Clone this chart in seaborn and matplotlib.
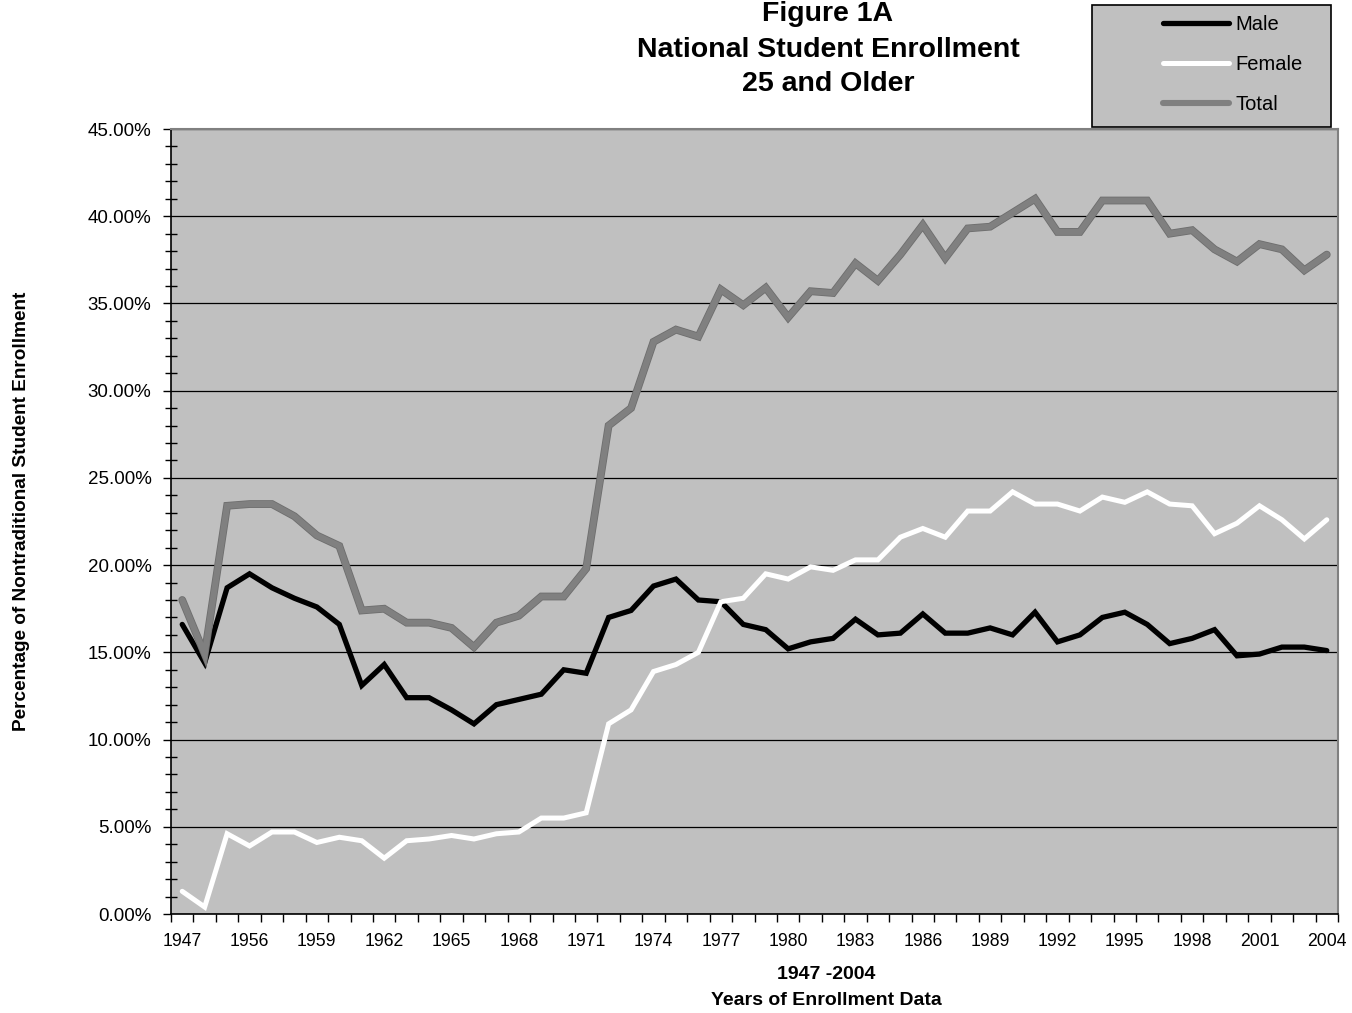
import numpy as np
import pandas as pd
import matplotlib
matplotlib.use("Agg")
import matplotlib.pyplot as plt
import matplotlib.patheffects as pe
from matplotlib.patches import Rectangle
from matplotlib.ticker import MultipleLocator, FixedLocator, PercentFormatter
from matplotlib.lines import Line2D
import seaborn as sns

# Enrollment years (category axis)
years = ["1947", "1950", "1953",
         "1956", "1957", "1958", "1959", "1960", "1961", "1962", "1963", "1964",
         "1965", "1966", "1967", "1968", "1969", "1970", "1971", "1972", "1973",
         "1974", "1975", "1976", "1977", "1978", "1979", "1980", "1981", "1982",
         "1983", "1984", "1985", "1986", "1987", "1988", "1989", "1990", "1991",
         "1992", "1993", "1994", "1995", "1996", "1997", "1998", "1999", "2000",
         "2001", "2002", "2003", "2004"]

# Share of students aged 25 and older (percent)
male = [16.6, 14.4, 18.7, 19.5, 18.7, 18.1, 17.6, 16.6, 13.1, 14.3, 12.4, 12.4,
        11.7, 10.9, 12.0, 12.3, 12.6, 14.0, 13.8, 17.0, 17.4, 18.8, 19.2, 18.0,
        17.9, 16.6, 16.3, 15.2, 15.6, 15.8, 16.9, 16.0, 16.1, 17.2, 16.1, 16.1,
        16.4, 16.0, 17.3, 15.6, 16.0, 17.0, 17.3, 16.6, 15.5, 15.8, 16.3, 14.8,
        14.9, 15.3, 15.3, 15.1]
female = [1.3, 0.4, 4.6, 3.9, 4.7, 4.7, 4.1, 4.4, 4.2, 3.2, 4.2, 4.3,
          4.5, 4.3, 4.6, 4.7, 5.5, 5.5, 5.8, 10.9, 11.7, 13.9, 14.3, 15.0,
          17.9, 18.1, 19.5, 19.2, 19.9, 19.7, 20.3, 20.3, 21.6, 22.1, 21.6, 23.1,
          23.1, 24.2, 23.5, 23.5, 23.1, 23.9, 23.6, 24.2, 23.5, 23.4, 21.8, 22.4,
          23.4, 22.6, 21.5, 22.6]
total = [18.0, 14.9, 23.4, 23.5, 23.5, 22.8, 21.7, 21.1, 17.4, 17.5, 16.7, 16.7,
         16.4, 15.3, 16.7, 17.1, 18.2, 18.2, 19.8, 28.0, 29.0, 32.8, 33.5, 33.1,
         35.8, 34.9, 35.9, 34.2, 35.7, 35.6, 37.3, 36.3, 37.8, 39.5, 37.6, 39.3,
         39.4, 40.2, 41.0, 39.1, 39.1, 40.9, 40.9, 40.9, 39.0, 39.2, 38.1, 37.4,
         38.4, 38.1, 36.9, 37.8]

series_names = ["Male", "Female", "Total"]
title_lines = ["Figure 1A", "National Student Enrollment", "25 and Older"]
xlabel_lines = ["1947 -2004", "Years of Enrollment Data"]
ylabel_text = "Percentage of Nontraditional Student Enrollment"
label_step = 3

sns.set_style("white", {"axes.facecolor": "#C0C0C0"})
plt.rcParams["font.family"] = ["Liberation Sans", "DejaVu Sans"]
plt.rcParams["text.color"] = "black"
plt.rcParams["xtick.color"] = "black"
plt.rcParams["ytick.color"] = "black"
plt.rcParams["axes.labelcolor"] = "black"

df = pd.DataFrame({"pos": np.arange(len(years)), "year": years,
                   "Male": male, "Female": female, "Total": total})

W, H = 1352, 1013
fig = plt.figure(figsize=(W / 100, H / 100), dpi=100)
fig.patch.set_facecolor("white")
ax = fig.add_axes([171 / W, 1 - 914 / H, (1338 - 171) / W, (914 - 129) / H])
ax.set_facecolor("#C0C0C0")

ax.set_axisbelow(True)
ax.yaxis.grid(True, which="major", color="black", linewidth=0.9)
ax.xaxis.grid(False)

sns.lineplot(data=df, x="pos", y="Male", ax=ax, color="#000000",
             linewidth=3.8, solid_joinstyle="miter", zorder=3)
sns.lineplot(data=df, x="pos", y="Female", ax=ax, color="#FFFFFF",
             linewidth=3.6, solid_joinstyle="miter", zorder=3)
sns.lineplot(data=df, x="pos", y="Total", ax=ax, color="#808080",
             linewidth=4.4, solid_joinstyle="miter", zorder=3,
             path_effects=[pe.Stroke(linewidth=5.6, foreground="#6E6E6E"),
                           pe.Normal()])

ax.set_xlim(-0.5, len(years) - 0.5)
ax.set_ylim(0, 45)

# y axis: percent labels every 5, minor ticks every 1
ax.yaxis.set_major_locator(MultipleLocator(5))
ax.yaxis.set_minor_locator(MultipleLocator(1))
ax.yaxis.set_major_formatter(PercentFormatter(xmax=100, decimals=2))
ax.tick_params(axis="y", which="major", direction="out", length=6, width=1,
               color="black", labelcolor="black", pad=8, labelsize=13.5,
               left=True)
ax.tick_params(axis="y", which="minor", direction="inout", length=8, width=1,
               color="black", left=True)

# x axis: ticks at category boundaries, labels every third category
pos = np.arange(len(years))
ax.xaxis.set_major_locator(FixedLocator(pos[::label_step]))
ax.set_xticklabels(years[::label_step])
ax.xaxis.set_minor_locator(FixedLocator(np.arange(-0.5, len(years), 1)))
ax.tick_params(axis="x", which="major", length=0, pad=14, labelsize=12.7,
               labelcolor="black", bottom=True)
ax.tick_params(axis="x", which="minor", direction="out", length=6, width=1,
               color="black", bottom=True)

ax.set_xlabel("")
ax.set_ylabel("")

for side in ["left", "bottom"]:
    ax.spines[side].set_color("black")
    ax.spines[side].set_linewidth(1.2)
for side in ["top", "right"]:
    ax.spines[side].set_color("#808080")
    ax.spines[side].set_linewidth(1.5)

# Title lines (baselines in pixels from the top)
for text, base in zip(title_lines, [21, 57, 91]):
    fig.text(828 / W, 1 - base / H, text, ha="center", va="baseline",
             fontsize=20.5, fontweight="bold", color="black")

# Axis captions
fig.text(22 / W, 1 - 511 / H, ylabel_text, rotation=90, ha="center",
         va="center", fontsize=13.7, fontweight="bold", color="black")
for text, base in zip(xlabel_lines, [979, 1005]):
    fig.text(826 / W, 1 - base / H, text, ha="center", va="baseline",
             fontsize=14, fontweight="bold", color="black")

# Legend box
fig.patches.append(Rectangle((1092 / W, 1 - 127 / H), 239 / W, 122 / H,
                             transform=fig.transFigure, facecolor="#C0C0C0",
                             edgecolor="black", linewidth=1.2, zorder=0))
handles = [
    Line2D([], [], color="#000000", linewidth=3.8),
    Line2D([], [], color="#FFFFFF", linewidth=3.6),
    Line2D([], [], color="#808080", linewidth=4.4),
]
leg = fig.legend(handles, series_names, loc="upper left",
                 bbox_to_anchor=(1163 / W, 1 - 15 / H), frameon=False,
                 fontsize=14.5, handlelength=3.3, handletextpad=0.3,
                 labelspacing=1.05, borderpad=0, borderaxespad=0)
for t in leg.get_texts():
    t.set_color("black")

fig.savefig("out.png", dpi=100, facecolor="white")
